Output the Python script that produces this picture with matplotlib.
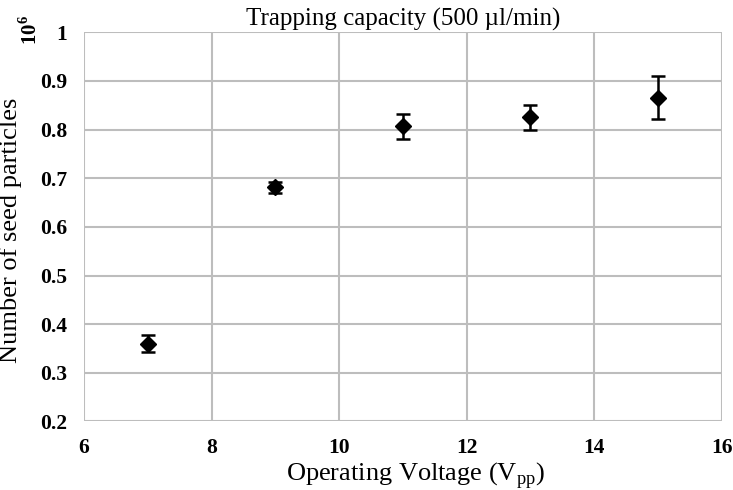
import matplotlib.pyplot as plt

plt.rcParams['font.family'] = ['Liberation Serif', 'DejaVu Serif']

# ---------- DATA ----------
voltage = [7, 9, 11, 13, 15]
particles = [0.360, 0.681, 0.807, 0.825, 0.866]
errors = [0.017, 0.012, 0.026, 0.025, 0.045]

x_ticks = [6, 8, 10, 12, 14, 16]
y_ticks = [0.2, 0.3, 0.4, 0.5, 0.6, 0.7, 0.8, 0.9, 1.0]
y_tick_labels = ['0.2', '0.3', '0.4', '0.5', '0.6', '0.7', '0.8', '0.9', '1']

# ---------- PLOT ----------
fig = plt.figure(figsize=(7.33, 4.9), dpi=100)
ax = fig.add_axes([0.1146, 0.140, 0.870, 0.794])

ax.errorbar(voltage, particles, yerr=errors, fmt='D', color='black',
            markersize=8, elinewidth=1.8, capsize=5, capthick=1.8, zorder=3)

ax.set_xlim(6, 16)
ax.set_ylim(0.2, 1.0)
ax.set_xticks(x_ticks)
ax.set_yticks(y_ticks)
ax.set_yticklabels(y_tick_labels)
ax.grid(True, color='#bdbdbd', linewidth=1.5)
ax.set_axisbelow(True)
for s in ax.spines.values():
    s.set_visible(False)
ax.tick_params(length=0, labelsize=15.5)
ax.tick_params(axis='y', pad=12)
ax.tick_params(axis='x', pad=12)
for lbl in ax.get_xticklabels() + ax.get_yticklabels():
    lbl.set_fontweight('bold')

ax.set_title('Trapping capacity (500 µl/min)', fontsize=18, pad=5)
ax.set_xlabel('Operating Voltage (V$_{\\mathregular{pp}}$)', fontsize=19)
ax.xaxis.set_label_coords(0.52, -0.098)
ax.set_ylabel('Number of seed particles', fontsize=19)
ax.yaxis.set_label_coords(-0.097, 0.49)
fig.text(0.042, 0.939, '10$^{\\mathregular{6}}$', rotation=90, fontsize=15,
         fontweight='bold', ha='center', va='center')

fig.savefig('out.png', dpi=100)
